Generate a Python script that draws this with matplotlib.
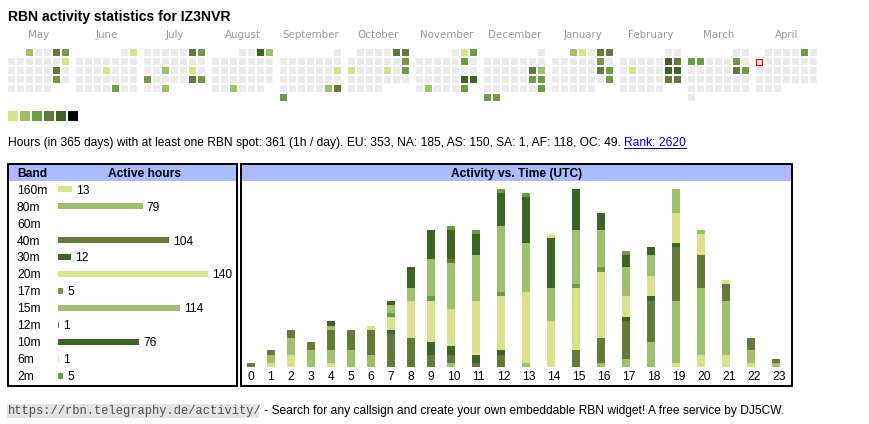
import calendar
import datetime as dt
import numpy as np
import matplotlib
matplotlib.use("Agg")
import matplotlib.pyplot as plt
from matplotlib.patches import Rectangle
from matplotlib.transforms import blended_transform_factory

SANS = ["Liberation Sans", "DejaVu Sans"]
plt.rcParams["font.family"] = SANS

# ---------------- data ----------------
callsign = "IZ3NVR"
first_month = (2024, 5)
month_names = ["May", "June", "July", "August", "September", "October",
               "November", "December", "January", "February", "March", "April"]
today = "2025-04-07"

active_days = [
    "2024-05-01", "2024-05-04", "2024-05-05", "2024-05-12", "2024-05-18", "2024-05-25",
    "2024-06-02", "2024-06-13", "2024-06-28",
    "2024-07-06", "2024-07-07", "2024-07-17", "2024-07-20", "2024-07-22", "2024-07-27",
    "2024-07-28", "2024-07-31",
    "2024-08-03", "2024-08-04", "2024-08-28",
    "2024-09-15", "2024-09-28", "2024-09-29", "2024-09-30",
    "2024-10-05", "2024-10-06", "2024-10-13", "2024-10-14", "2024-10-18", "2024-10-20",
    "2024-11-02", "2024-11-03", "2024-11-09", "2024-11-23", "2024-11-24", "2024-11-26",
    "2024-11-30",
    "2024-12-14", "2024-12-15", "2024-12-21", "2024-12-22", "2024-12-29", "2024-12-30",
    "2024-12-31",
    "2025-01-01", "2025-01-02", "2025-01-04", "2025-01-05", "2025-01-11", "2025-01-18",
    "2025-01-19", "2025-01-26",
    "2025-02-08", "2025-02-09", "2025-02-11", "2025-02-15", "2025-02-16", "2025-02-22",
    "2025-02-23",
    "2025-03-03", "2025-03-04", "2025-03-08", "2025-03-15", "2025-03-16",
    "2025-04-05",
]
active_levels = [
    1, 3, 2, 0, 3, 2,
    0, 0, 2,
    3, 2, 1, 0, 2, 3,
    2, 1,
    4, 1, 1,
    0, 1, 3, 2,
    3, 3, 2, 0, 0, 2,
    0, 2, 2, 4, 4, 1,
    2,
    3, 1, 2, 2, 2, 2,
    2,
    1, 0, 3, 3, 2, 3,
    2, 2,
    4, 3, 0, 4, 4, 3,
    3,
    2, 2, 2, 3, 2,
    2,
]
level_colors = ["#dae28b", "#9dc16b", "#6a9e44", "#64793a", "#3c6426", "#000000"]

bands = ["160m", "80m", "60m", "40m", "30m", "20m", "17m", "15m", "12m", "10m", "6m", "2m"]
band_hours = [13, 79, 0, 104, 12, 140, 5, 114, 1, 76, 1, 5]
band_levels = [0, 1, 2, 3, 4, 0, 2, 1, 3, 4, 0, 2]

hour_labels = [str(h) for h in range(24)]
h160 = [0, 1, 3, 0, 1, 0, 0, 0, 0, 0, 0, 0, 0, 0, 0, 0, 0, 0, 0, 1, 3, 3, 1, 0]
h80 = [0, 2, 4, 4, 3, 4, 3, 0, 0, 0, 1, 0, 0, 1, 0, 0, 1, 2, 6, 15, 16, 13, 3, 1]
h60 = [0] * 24
h40 = [1, 1, 2, 2, 5, 5, 6, 8, 7, 3, 2, 1, 3, 0, 0, 4, 6, 9, 10, 13, 8, 4, 3, 1]
h30 = [0, 0, 0, 0, 0, 0, 0, 1, 0, 3, 2, 2, 1, 0, 0, 0, 0, 1, 1, 1, 0, 0, 0, 0]
h20 = [0, 0, 0, 0, 0, 0, 1, 3, 9, 10, 9, 13, 13, 17, 11, 15, 16, 5, 5, 7, 5, 1, 0, 0]
h17 = [0, 0, 0, 0, 0, 0, 0, 1, 0, 1, 0, 0, 1, 0, 0, 1, 1, 0, 0, 0, 0, 0, 0, 0]
h15 = [0, 0, 0, 0, 1, 0, 0, 2, 3, 9, 11, 11, 16, 12, 8, 13, 9, 7, 5, 6, 1, 0, 0, 0]
h12 = [0, 0, 0, 0, 0, 0, 0, 0, 0, 0, 1, 0, 0, 0, 0, 0, 0, 0, 0, 0, 0, 0, 0, 0]
h10 = [0, 0, 0, 0, 1, 0, 0, 1, 5, 7, 7, 5, 8, 11, 12, 10, 4, 3, 2, 0, 0, 0, 0, 0]
h6 = [0, 0, 0, 0, 0, 0, 0, 0, 0, 0, 0, 0, 0, 0, 1, 0, 0, 0, 0, 0, 0, 0, 0, 0]
h2 = [0, 0, 0, 0, 0, 0, 0, 0, 0, 0, 1, 1, 1, 1, 0, 0, 0, 1, 0, 0, 0, 0, 0, 0]
hourly_by_band = [h160, h80, h60, h40, h30, h20, h17, h15, h12, h10, h6, h2]

summary_text = ("Hours (in 365 days) with at least one RBN spot: 361 (1h / day). "
                "EU: 353, NA: 185, AS: 150, SA: 1, AF: 118, OC: 49. ")
rank_text = "Rank: 2620"
url_text = "https://rbn.telegraphy.de/activity/"
footer_text = " - Search for any callsign and create your own embeddable RBN widget! A free service by DJ5CW."

# ---------------- layout ----------------
W, H = 870, 424
PT = 72 / 100  # points per pixel
fig = plt.figure(figsize=(W / 100, H / 100), dpi=100)
bg = fig.add_axes([0, 0, 1, 1])
bg.set_xlim(0, W)
bg.set_ylim(H, 0)
bg.axis("off")


def px_axes(x0, y0, x1, y1):
    a = fig.add_axes([x0 / W, 1 - y1 / H, (x1 - x0) / W, (y1 - y0) / H])
    a.patch.set_alpha(0)
    a.axis("off")
    return a


# Title
bg.text(8, 21, f"RBN activity statistics for {callsign}", fontsize=14 * PT,
        fontweight="bold", va="baseline", ha="left", color="#000000")

# Calendar heat map
active = {dt.date.fromisoformat(d): l for d, l in zip(active_days, active_levels)}
today_d = dt.date.fromisoformat(today)
yy, mm = first_month
for mi, name in enumerate(month_names):
    first = dt.date(yy, mm, 1)
    ndays = calendar.monthrange(yy, mm)[1]
    x0 = 8 + 68 * mi
    bg.text(x0 + 30.5, 38, name, fontsize=10.3 * PT, family=["DejaVu Sans"],
            color="#999999", ha="center", va="baseline")
    for d in range(1, ndays + 1):
        day = dt.date(yy, mm, d)
        col = day.weekday()
        row = (d - 1 + first.weekday()) // 7
        fc = level_colors[active[day]] if day in active else "#ebebeb"
        if day == today_d:
            bg.add_patch(Rectangle((x0 + 9 * col + 0.5, 49 + 9 * row + 0.5), 6, 6,
                                   facecolor=fc, edgecolor="#ff0000", linewidth=1.2 * PT))
        else:
            bg.add_patch(Rectangle((x0 + 9 * col, 49 + 9 * row), 7, 7,
                                   facecolor=fc, edgecolor="none"))
    mm += 1
    if mm > 12:
        mm, yy = 1, yy + 1

# Legend squares
for k, c in enumerate(level_colors):
    bg.add_patch(Rectangle((8 + 12 * k, 111), 10, 10, facecolor=c, edgecolor="none"))

# Summary line with link
t1 = bg.text(8, 146, summary_text, fontsize=12 * PT, va="baseline", ha="left")
fig.canvas.draw()
bb = t1.get_window_extent()
x_end = bg.transData.inverted().transform((bb.x1, bb.y0))[0]
t2 = bg.text(x_end, 146, rank_text, fontsize=12 * PT, va="baseline", ha="left", color="#0000ee")
fig.canvas.draw()
bb2 = t2.get_window_extent()
xa = bg.transData.inverted().transform((bb2.x0, 0))[0]
xb = bg.transData.inverted().transform((bb2.x1, 0))[0]
bg.plot([xa, xb], [147.5, 147.5], color="#0000ee", lw=1 * PT)

# Boxes and headers
HDR = "#aabbff"
bg.add_patch(Rectangle((9, 165), 228, 15.5, facecolor=HDR, edgecolor="none"))
bg.add_patch(Rectangle((242, 165), 549.5, 15.5, facecolor=HDR, edgecolor="none"))
bg.add_patch(Rectangle((8.3, 164.3), 229.2, 222, fill=False, edgecolor="black", lw=2 * PT))
bg.add_patch(Rectangle((241, 164.3), 551, 221.2, fill=False, edgecolor="black", lw=2 * PT))
bg.text(17, 177, "Band", fontsize=12 * PT, fontweight="bold", va="baseline", ha="left")
bg.text(144.5, 177, "Active hours", fontsize=12 * PT, fontweight="bold", va="baseline", ha="center")
bg.text(516.5, 177, "Activity vs. Time (UTC)", fontsize=12 * PT, fontweight="bold",
        va="baseline", ha="center")

# Left table: horizontal bars per band
ROW = 16.97
PXU = 150 / 140  # pixels per hour in band table
axL = px_axes(58, 181, 238, 385)
axL.set_xlim(0, 180 / PXU)
axL.set_ylim((385 - 189.3) / ROW, (181 - 189.3) / ROW)
ypos = np.arange(len(bands))
axL.barh(ypos, band_hours, height=0.37, color=[level_colors[i] for i in band_levels],
         linewidth=0)
trL = blended_transform_factory(bg.transData, axL.transData)
for i, (b, v) in enumerate(zip(bands, band_hours)):
    bg.text(17, i + 4.3 / ROW, b, transform=trL, fontsize=12 * PT, va="baseline", ha="left")
    if v > 0:
        axL.text(v + 4 / PXU, i + 4.3 / ROW, str(v), fontsize=12 * PT, va="baseline", ha="left")

# Right chart: stacked bars per UTC hour
UNIT = 4.15  # pixels per hour
axR = px_axes(242, 183, 791, 367)
axR.set_xlim(242, 791)
axR.set_ylim(0, (367 - 183) / UNIT)
widths = [20 if len(l) == 1 else 25 for l in hour_labels]
lefts = 247.3 + np.concatenate([[0], np.cumsum(widths[:-1])])
bottom = np.zeros(len(hour_labels))
for vals, lev in zip(hourly_by_band, band_levels):
    vals = np.array(vals, dtype=float)
    axR.bar(lefts, vals, bottom=bottom, width=7.5, align="edge",
            color=level_colors[lev], linewidth=0)
    bottom += vals
trR = blended_transform_factory(axR.transData, bg.transData)
for x, lab in zip(lefts, hour_labels):
    bg.text(x, 380.5, lab, transform=trR, fontsize=12 * PT, va="baseline", ha="left")

# Footer
bg.add_patch(Rectangle((7, 403.5), 252.5, 14.5, facecolor="#e3e3e3", edgecolor="none"))
bg.text(8, 414, url_text, family=["Liberation Mono", "DejaVu Sans Mono"], fontsize=12 * PT,
        color="#505050", va="baseline", ha="left")
bg.text(261, 414, footer_text, fontsize=12 * PT, va="baseline", ha="left")

fig.savefig("out.png", dpi=100)
